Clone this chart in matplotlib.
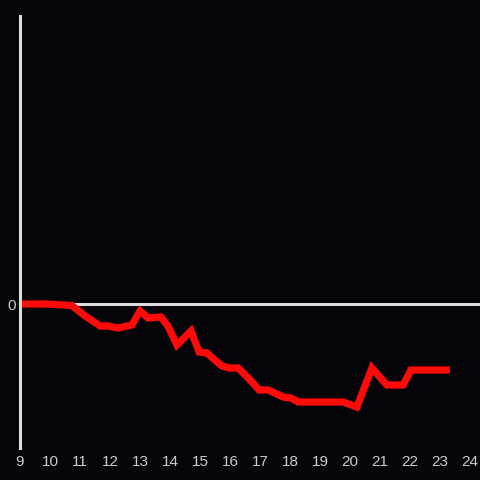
import matplotlib
matplotlib.use("Agg")
import matplotlib.pyplot as plt

x_vals = [9.0, 9.9, 10.73, 11.17, 11.67, 11.93, 12.27, 12.73, 13.0, 13.27, 13.7, 13.93,
          14.23, 14.7, 14.97, 15.23, 15.73, 15.97, 16.27, 16.67, 16.97, 17.27, 17.77,
          18.03, 18.27, 19.77, 20.23, 20.73, 21.23, 21.77, 22.03, 23.33]
y_vals = [0, 0, -1.5, -12, -22, -22, -24, -21, -7, -14, -13, -22,
          -41, -27, -48, -49, -62, -64, -64, -76, -86, -86, -93,
          -94, -98, -98, -103, -64, -81, -81, -66, -66]
x_ticks = list(range(9, 25))
y_ticks = [0]

bg = "#050408"
axis_col = "#dddddd"
text_col = "#cccccc"

fig = plt.figure(figsize=(4.8, 4.8), dpi=100, facecolor=bg)
ax = fig.add_axes([20/480, 32/480, 460/480, 432/480], facecolor=bg)

ax.axhline(0, color=axis_col, lw=2.2, zorder=1)
ax.plot(x_vals, y_vals, color="#ff0a0a", lw=5.2, solid_joinstyle="miter",
        solid_capstyle="butt", zorder=2)

ax.set_xlim(9, 9 + 460/30)
ax.set_ylim(-144, 288)
for s in ["top", "right", "bottom"]:
    ax.spines[s].set_visible(False)
ax.spines["left"].set_color(axis_col)
ax.spines["left"].set_linewidth(2.2)

ax.set_xticks(x_ticks)
ax.set_xticklabels([str(t) for t in x_ticks])
ax.set_yticks(y_ticks)
ax.set_yticklabels(["0"])
ax.tick_params(axis="both", length=0, colors=text_col, labelsize=11)
ax.tick_params(axis="x", pad=5)
ax.tick_params(axis="y", pad=3)
for lab in ax.get_xticklabels() + ax.get_yticklabels():
    lab.set_fontfamily("Liberation Sans")

fig.savefig("out.png", dpi=100, facecolor=bg)
